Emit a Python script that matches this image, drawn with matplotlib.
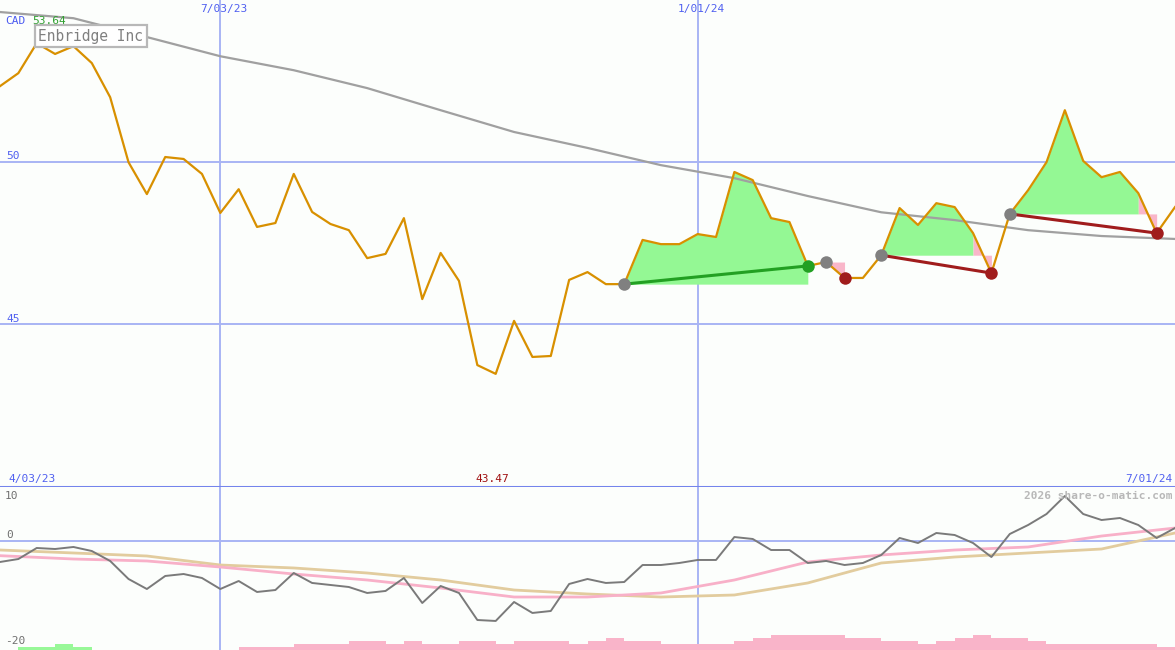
import matplotlib
matplotlib.use('Agg')
import matplotlib.pyplot as plt
import numpy as np

# weekly closes (CAD), 4/03/23 .. 7/01/24
price = [52.32, 52.72, 53.64, 53.31, 53.55, 53.03, 51.98, 49.98, 49.00, 50.14,
         50.08, 49.62, 48.42, 49.15, 47.99, 48.11, 49.62, 48.45, 48.08, 47.89,
         47.03, 47.16, 48.26, 45.77, 47.19, 46.33, 43.74, 43.47, 45.10, 43.99,
         44.02, 46.36, 46.60, 46.23, 46.23, 47.59, 47.46, 47.46, 47.77, 47.68,
         49.68, 49.43, 48.26, 48.14, 46.79, 46.91, 46.42, 46.42, 47.12, 48.57,
         48.05, 48.72, 48.60, 47.80, 46.57, 48.39, 49.12, 49.98, 51.58, 50.02,
         49.52, 49.68, 49.03, 47.80, 48.60]

# long moving average, read every 4 weeks
ma_weeks = list(range(0, 65, 4))
ma_long = [54.60, 54.41, 53.83, 53.24, 52.81, 52.26, 51.58, 50.91, 50.42,
           49.89, 49.49, 48.94, 48.44, 48.20, 47.89, 47.71, 47.62]

# lower panel: momentum oscillator and its two averages
osc = [-3.96, -3.40, -1.32, -1.51, -1.13, -1.89, -3.77, -7.17, -9.06, -6.60,
       -6.23, -6.98, -9.06, -7.55, -9.62, -9.25, -6.04, -7.92, -8.30, -8.68,
       -9.81, -9.43, -6.98, -11.70, -8.49, -9.81, -14.91, -15.09, -11.51, -13.58,
       -13.21, -8.11, -7.17, -7.92, -7.74, -4.53, -4.53, -4.15, -3.58, -3.58,
       0.75, 0.38, -1.70, -1.70, -4.15, -3.77, -4.53, -4.15, -2.64, 0.57,
       -0.38, 1.51, 1.13, -0.38, -3.02, 1.32, 3.02, 5.09, 8.49, 5.09,
       3.96, 4.34, 3.02, 0.57, 2.45]
osc_pink = [-2.77, -3.40, -3.77, -4.91, -6.23, -7.36, -8.87, -10.57, -10.57,
            -9.81, -7.36, -3.96, -2.64, -1.70, -1.13, 0.94, 2.45]
osc_tan = [-1.70, -2.26, -2.83, -4.53, -5.09, -6.04, -7.36, -9.25, -10.00,
           -10.57, -10.19, -7.92, -4.15, -3.02, -2.26, -1.51, 1.51]

# bottom bars per week segment (sign: + green, - pink)
bars = [0, 1, 1, 2, 1, 0, 0, 0, 0, 0, 0, 0, 0, -1, -1, -1, -2, -2, -2, -3,
        -3, -2, -3, -2, -2, -3, -3, -2, -3, -3, -3, -2, -3, -4, -3, -3, -2, -2,
        -2, -2, -3, -4, -5, -5, -5, -5, -4, -4, -3, -3, -2, -3, -4, -5, -4, -4,
        -3, -2, -2, -2, -2, -2, -2, -1]

# patterns: (start week, end week, last green week, kind)
patterns = [(34, 44, 44, 'up'), (45, 46, 45, 'down'), (48, 54, 53, 'down'),
            (55, 63, 62, 'down')]

W, H = 1175, 650
bg = '#fcfefc'
grid_c = '#a8b4f4'
x = np.arange(len(price))

fig = plt.figure(figsize=(W / 100, H / 100), dpi=100, facecolor=bg)
split = (H - 487) / H
ax = fig.add_axes([0, split, 1, 1 - split])
ax2 = fig.add_axes([0, 0, 1, split])

for a in (ax, ax2):
    a.set_facecolor(bg)
    a.set_xlim(0, 64)
    a.set_xticks([])
    a.set_yticks([])
    for s in a.spines.values():
        s.set_visible(False)
    for d in (12, 38):
        a.axvline(d, color=grid_c, lw=1.4, zorder=1)

# main panel
ax.set_ylim(39.99, 54.97)
for lvl in (50, 45):
    ax.axhline(lvl, color=grid_c, lw=1.4, zorder=1)
ax.axhline(39.99, color='#7484ec', lw=2.2, zorder=1, clip_on=False)

p = np.array(price)
for s, e, g, kind in patterns:
    lvl = p[s]
    if g > s:
        ax.fill_between(x[s:g + 1], p[s:g + 1], lvl, color='#94f894', lw=0, zorder=2)
    if e > g:
        ax.fill_between(x[g:e + 1], p[g:e + 1], lvl, color='#f9b6c9', lw=0, zorder=2)

ax.plot(ma_weeks, ma_long, color='#a0a0a0', lw=1.6, zorder=3)
ax.plot(x, price, color='#d89000', lw=1.6, zorder=4)

for s, e, g, kind in patterns:
    c = '#22a022' if kind == 'up' else '#a01c1c'
    if e - s > 1:
        ax.plot([s, e], [price[s], price[e]], color=c, lw=2.2, zorder=5)
    ax.plot(s, price[s], 'o', color='#808080', ms=9, mew=0, zorder=6)
    ax.plot(e, price[e], 'o', color=c, ms=9, mew=0, zorder=6)

# lower panel
ax2.set_ylim(-20.57, 10.19)
ax2.axhline(0, color=grid_c, lw=1.4, zorder=1)
b = np.array(bars, dtype=float)
unit = 30.76 / 163 * 3
ax2.bar(np.arange(len(bars)), np.abs(b) * unit, width=1.0, align='edge',
        bottom=-20.57, color=np.where(b > 0, '#98f898', '#f9b4c9'), lw=0, zorder=2)
ax2.plot(ma_weeks, osc_tan, color='#e2cc9e', lw=2, zorder=3)
ax2.plot(ma_weeks, osc_pink, color='#f8b0c8', lw=2, zorder=3)
ax2.plot(x, osc, color='#7a7a7a', lw=1.4, zorder=4)


def txt(px, py, s, color, ha='left', size=8, **kw):
    fig.text(px / W, 1 - py / H, s, color=color, ha=ha, va='center',
             family='DejaVu Sans Mono', fontsize=size, **kw)


txt(5, 21, 'CAD', '#4a5af0')
txt(32, 21, '53.64', '#30a030')
txt(38, 36, 'Enbridge Inc', '#808080', size=10.5,
    bbox=dict(facecolor='white', edgecolor='#b8b8b8', lw=1.6, pad=2.5))
txt(224, 9, '7/03/23', '#5060f0', ha='center')
txt(701, 9, '1/01/24', '#5060f0', ha='center')
txt(6, 156, '50', '#5060f0')
txt(6, 319, '45', '#5060f0')
txt(8, 479, '4/03/23', '#5060f0')
txt(475, 479, '43.47', '#a01010')
txt(1172, 479, '7/01/24', '#5060f0', ha='right')
txt(1172, 496, '2026 share-o-matic.com', '#b8b8b8', ha='right', weight='bold')
txt(5, 496, '10', '#707070')
txt(6, 535, '0', '#707070')
txt(5, 641, '-20', '#707070')

fig.savefig('out.png', dpi=100, facecolor=bg)
